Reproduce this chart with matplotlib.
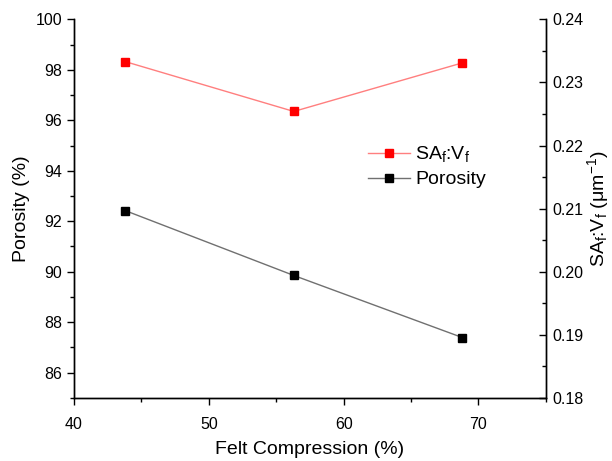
import matplotlib.pyplot as plt
import matplotlib.ticker as ticker

plt.rcParams['font.family'] = ['Liberation Sans', 'DejaVu Sans']

compression = [43.8, 56.3, 68.8]
porosity = [92.42, 89.85, 87.39]
sa_v = [0.2333, 0.2254, 0.2331]

fig = plt.figure(figsize=(6.12, 4.61), dpi=100)
ax = fig.add_axes([0.121, 0.137, 0.771, 0.821])
ax2 = ax.twinx()

l2, = ax2.plot(compression, sa_v, color='#ff7f7f', lw=1, marker='s', ms=6,
               mfc='red', mec='red', label='SA$_\\mathregular{f}$:V$_\\mathregular{f}$')
l1, = ax.plot(compression, porosity, color='#707070', lw=1, marker='s', ms=6,
              mfc='black', mec='black', label='Porosity')

ax.set_xlim(40, 75)
ax.set_ylim(85, 100)
ax2.set_ylim(0.18, 0.24)

ax.xaxis.set_major_locator(ticker.MultipleLocator(10))
ax.xaxis.set_minor_locator(ticker.MultipleLocator(5))
ax.yaxis.set_major_locator(ticker.FixedLocator([86, 88, 90, 92, 94, 96, 98, 100]))
ax.yaxis.set_minor_locator(ticker.MultipleLocator(1))
ax2.yaxis.set_major_locator(ticker.MultipleLocator(0.01))
ax2.yaxis.set_minor_locator(ticker.MultipleLocator(0.005))
ax2.yaxis.set_major_formatter(ticker.StrMethodFormatter("{x:.2f}"))

for a in (ax, ax2):
    a.spines['top'].set_visible(False)
    a.tick_params(which='major', direction='out', length=5, width=1, labelsize=11.5)
    a.tick_params(which='minor', direction='out', length=3, width=1)
    for s in a.spines.values():
        s.set_linewidth(1)
ax.tick_params(axis='y', which='both', right=False)
ax.tick_params(axis='x', which='both', top=False)
ax.tick_params(axis='x', which='major', pad=9)
# right axis ticks point into the plot
ax2.tick_params(axis='y', which='both', direction='in')
ax2.tick_params(axis='y', which='major', pad=4.5)

ax.set_xlabel('Felt Compression (%)', fontsize=14, labelpad=6)
ax.set_ylabel('Porosity (%)', fontsize=14)
ax2.set_ylabel('SA$_\\mathregular{f}$:V$_\\mathregular{f}$ ($\\mathregular{\\mu m^{-1}}$)', fontsize=14)
ax2.yaxis.set_label_coords(1.083, 0.5)

ax2.legend([l2, l1], [l2.get_label(), l1.get_label()], loc='upper left',
           bbox_to_anchor=(0.585, 0.715), frameon=False, fontsize=14,
           handlelength=2.2, handletextpad=0.25, labelspacing=0.3)

fig.savefig('out.png', dpi=100)
